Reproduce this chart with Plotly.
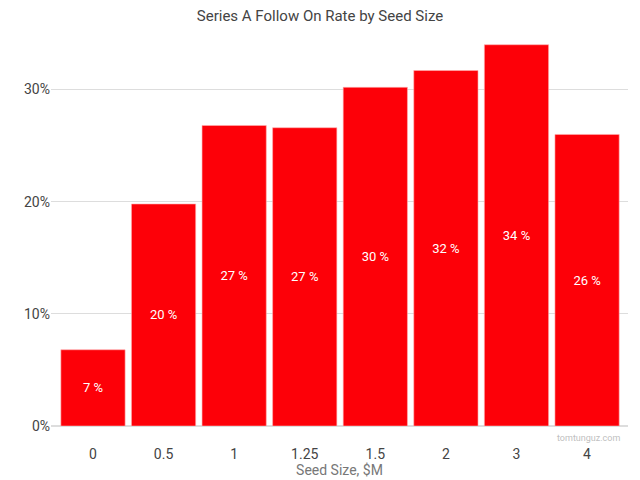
import plotly.graph_objects as go

categories = ["0", "0.5", "1", "1.25", "1.5", "2", "3", "4"]
rates = [0.068, 0.198, 0.268, 0.266, 0.302, 0.317, 0.340, 0.260]
labels = ["7 %", "20 %", "27 %", "27 %", "30 %", "32 %", "34 %", "26 %"]
y_ticks = [0, 0.1, 0.2, 0.3]
y_tick_text = ["0%", "10%", "20%", "30%"]

fig = go.Figure(go.Bar(
    x=categories, y=rates, text=labels,
    textposition="inside", insidetextanchor="middle",
    textfont=dict(color="white", size=13, family="Roboto"),
    marker=dict(color="#fd0008", line=dict(color="#ffb0b0", width=0.6)),
    hoverinfo="skip",
))

fig.update_layout(
    width=640, height=480,
    margin=dict(l=51, r=12, t=38, b=54),
    paper_bgcolor="white", plot_bgcolor="white",
    bargap=0.09,
    showlegend=False,
    title=dict(text="Series A Follow On Rate by Seed Size", x=0.5, xanchor="center",
               y=0.968, yanchor="middle",
               font=dict(family="Roboto", size=15, color="#444")),
    font=dict(family="Roboto", color="#444"),
)
fig.update_xaxes(
    type="category", range=[-0.595, 7.58], automargin=False,
    showgrid=False, showline=False, ticks="",
    tickfont=dict(size=14, color="#444"),
    ticklabelstandoff=18,
    title=dict(text="Seed Size, $M", font=dict(size=14, color="#777"), standoff=0),
)
fig.update_yaxes(
    range=[0, 0.346], tickvals=y_ticks, ticktext=y_tick_text, automargin=False,
    showgrid=True, gridcolor="#dddddd", gridwidth=1,
    zeroline=True, zerolinecolor="#dddddd", zerolinewidth=2,
    tickfont=dict(size=14, color="#444"), ticks="",
)
fig.add_annotation(text="tomtunguz.com", xref="paper", yref="paper", x=0.99, y=-0.03,
                   xanchor="right", yanchor="middle", showarrow=False,
                   font=dict(size=9, color="#c0c0c0", family="Roboto"))

fig.write_html("out.html")
